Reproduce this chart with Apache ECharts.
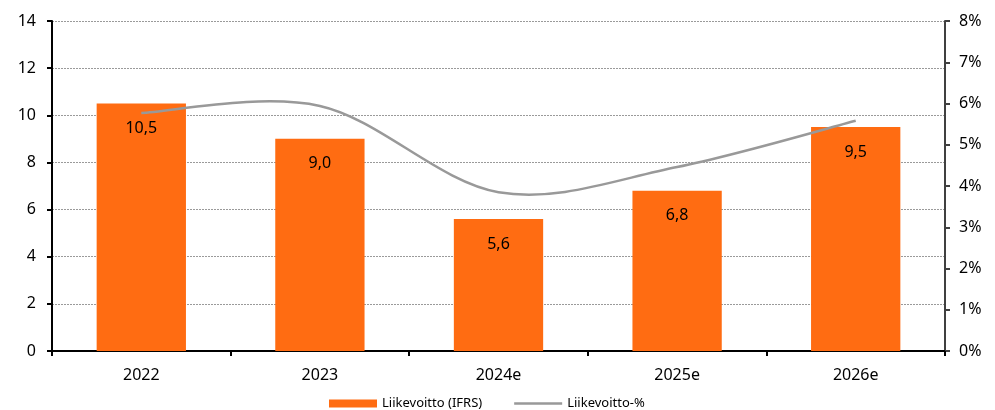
<!DOCTYPE html>
<html>
<head>
<meta charset="utf-8">
<script src="https://cdn.jsdelivr.net/npm/echarts@6/dist/echarts.min.js"></script>
<style>
  html, body { margin: 0; padding: 0; background: #fff; }
  #chart { width: 995px; height: 410px; }
</style>
</head>
<body>
<div id="chart"></div>
<script>
// Operating profit (MEUR) and operating margin (%) by year
const years = ['2022', '2023', '2024e', '2025e', '2026e'];
const operatingProfit = [10.5, 9.0, 5.6, 6.8, 9.5];
const operatingMargin = [5.77, 5.94, 3.85, 4.46, 5.58];
const profitName = 'Liikevoitto (IFRS)';
const marginName = 'Liikevoitto-%';

const FONT = 'Noto Sans';
const LINE_COLOR = '#999999';
const chart = echarts.init(document.getElementById('chart'));

// Smooth Catmull-Rom style curve through the margin points, drawn once
function renderMarginCurve(params, api) {
  if (params.dataIndex !== 0) return null;
  const pts = operatingMargin.map((v, i) => api.coord([i, v]));
  const n = pts.length;
  let d = 'M' + pts[0][0] + ',' + pts[0][1];
  for (let i = 0; i < n - 1; i++) {
    const p0 = pts[Math.max(i - 1, 0)];
    const p1 = pts[i];
    const p2 = pts[i + 1];
    const p3 = pts[Math.min(i + 2, n - 1)];
    const c1 = [p1[0] + (p2[0] - p0[0]) / 6, p1[1] + (p2[1] - p0[1]) / 6];
    const c2 = [p2[0] - (p3[0] - p1[0]) / 6, p2[1] - (p3[1] - p1[1]) / 6];
    d += ' C' + c1[0] + ',' + c1[1] + ' ' + c2[0] + ',' + c2[1] + ' ' + p2[0] + ',' + p2[1];
  }
  return {
    type: 'path',
    shape: { pathData: d },
    style: { fill: 'none', stroke: LINE_COLOR, lineWidth: 2.5 }
  };
}

chart.setOption({
  animation: false,
  textStyle: { fontFamily: FONT },
  grid: { left: 52, right: 50, top: 21, bottom: 59 },
  legend: {
    top: 392,
    left: 324,
    itemGap: 32,
    itemWidth: 48,
    itemHeight: 8,
    textStyle: { fontFamily: FONT, fontSize: 13, color: '#000' },
    data: [
      { name: profitName, icon: 'rect' },
      { name: marginName, icon: 'path://M0,0 L48,0 L48,2.5 L0,2.5 Z' }
    ]
  },
  xAxis: {
    type: 'category',
    data: years,
    axisLine: { lineStyle: { color: '#000', width: 2 } },
    axisTick: { show: true, length: 5, lineStyle: { color: '#000', width: 2 } },
    axisLabel: { fontFamily: FONT, fontSize: 16, color: '#000', margin: 16 }
  },
  yAxis: [
    {
      type: 'value',
      min: 0, max: 14, interval: 2,
      axisLine: { show: true, lineStyle: { color: '#000', width: 2 } },
      axisTick: { show: true, length: 5, lineStyle: { color: '#000', width: 2 } },
      axisLabel: { fontFamily: FONT, fontSize: 16, color: '#000', margin: 16 },
      splitLine: { show: true, lineStyle: { color: '#9a9a9a', type: [2, 1], width: 1 } }
    },
    {
      type: 'value',
      min: 0, max: 8, interval: 1,
      position: 'right',
      axisLine: { show: true, lineStyle: { color: '#404040', width: 2 } },
      axisTick: { show: true, length: 5, lineStyle: { color: '#404040', width: 2 } },
      axisLabel: { fontFamily: FONT, fontSize: 16, color: '#000', margin: 14, formatter: v => v + '%' },
      splitLine: { show: false }
    }
  ],
  series: [
    {
      name: profitName,
      type: 'bar',
      data: operatingProfit,
      barWidth: '50%',
      itemStyle: { color: '#ff6c12' },
      label: {
        show: true,
        position: 'insideTop',
        distance: 17,
        fontFamily: FONT,
        fontSize: 16,
        color: '#000',
        formatter: p => p.value.toFixed(1).replace('.', ',')
      }
    },
    {
      name: marginName,
      type: 'custom',
      yAxisIndex: 1,
      data: operatingMargin.map((v, i) => [i, v]),
      encode: { x: 0, y: 1 },
      renderItem: renderMarginCurve,
      itemStyle: { color: LINE_COLOR },
      z: 3
    }
  ]
});
</script>
</body>
</html>
